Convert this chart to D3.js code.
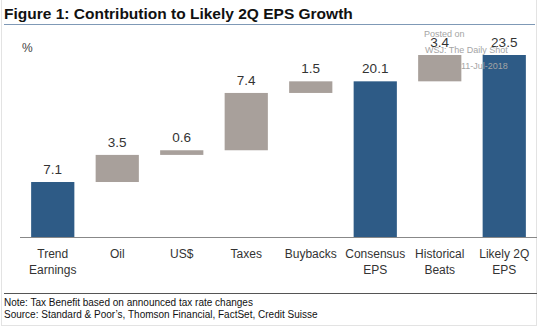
<!DOCTYPE html>
<html>
<head>
<meta charset="utf-8">
<script src="https://cdn.jsdelivr.net/npm/d3@7"></script>
<style>
  body { margin: 0; background: #fff; }
  svg { display: block; font-family: Arial, "Liberation Sans", sans-serif; }
</style>
</head>
<body>
<svg id="chart" width="540" height="328"></svg>
<script>
  // waterfall: blue bars are totals, grey bars are increments stacked on the running total
  const categories = ['Trend\nEarnings', 'Oil', 'US$', 'Taxes', 'Buybacks',
    'Consensus\nEPS', 'Historical\nBeats', 'Likely 2Q\nEPS'];
  const values = [7.1, 3.5, 0.6, 7.4, 1.5, 20.1, 3.4, 23.5];
  const isTotal = [true, false, false, false, false, true, false, true];
  const watermark = ['Posted on', 'WSJ: The Daily Shot', '11-Jul-2018'];
  const notes = ['Note: Tax Benefit based on announced tax rate changes',
    'Source: Standard & Poor\u2019s, Thomson Financial, FactSet, Credit Suisse'];

  const blue = '#2e5b86';
  const grey = '#a8a09b';

  const svg = d3.select('#chart');
  const width = 540, height = 328;

  // frame
  svg.append('rect')
    .attr('x', 1.5).attr('y', -2)
    .attr('width', width - 5).attr('height', height - 0.5)
    .attr('fill', 'none').attr('stroke', '#e3e3e3');

  svg.append('text')
    .attr('x', 4).attr('y', 19)
    .attr('font-size', 15.5).attr('font-weight', 'bold')
    .attr('fill', '#111')
    .text('Figure 1: Contribution to Likely 2Q EPS Growth');

  svg.append('line')
    .attr('x1', 4).attr('x2', 535).attr('y1', 24.5).attr('y2', 24.5)
    .attr('stroke', '#7f99b6').attr('stroke-width', 1.2);

  // build start/end of each bar
  let running = 0;
  const bars = values.map((v, i) => {
    let d;
    if (isTotal[i]) {
      d = {y0: 0, y1: v};
      running = v;
    } else {
      d = {y0: running, y1: running + v};
      running += v;
    }
    d.value = v;
    d.cat = categories[i];
    d.total = isTotal[i];
    return d;
  });

  const x = d3.scaleBand()
    .domain(categories)
    .range([20.5, 536.5])
    .paddingInner(0.33)
    .paddingOuter(0.165);

  const y = d3.scaleLinear()
    .domain([0, 23.5])
    .range([237, 55]);

  const g = svg.append('g');

  g.selectAll('rect.bar')
    .data(bars)
    .enter().append('rect')
    .attr('class', 'bar')
    .attr('x', (d) => x(d.cat))
    .attr('width', x.bandwidth())
    .attr('y', (d) => y(d.y1))
    .attr('height', (d) => y(d.y0) - y(d.y1))
    .attr('fill', (d) => d.total ? blue : grey);

  g.selectAll('text.val')
    .data(bars)
    .enter().append('text')
    .attr('class', 'val')
    .attr('x', (d) => x(d.cat) + x.bandwidth() / 2)
    .attr('y', (d) => y(d.y1) - 8)
    .attr('text-anchor', 'middle')
    .attr('font-size', 13.5)
    .attr('fill', '#333')
    .text((d) => d.value.toFixed(1));

  // baseline axis
  g.append('line')
    .attr('x1', 20).attr('x2', 537)
    .attr('y1', y(0) + 0.5).attr('y2', y(0) + 0.5)
    .attr('stroke', '#888').attr('stroke-width', 1);

  const labels = g.selectAll('text.cat')
    .data(categories)
    .enter().append('text')
    .attr('class', 'cat')
    .attr('text-anchor', 'middle')
    .attr('font-size', 12)
    .attr('fill', '#333')
    .attr('transform', (d) => 'translate(' + (x(d) + x.bandwidth() / 2) + ',0)');

  labels.selectAll('tspan')
    .data((d) => d.split('\n'))
    .enter().append('tspan')
    .attr('x', 0)
    .attr('y', (d, i) => 258 + i * 16)
    .text((d) => d);

  svg.append('text')
    .attr('x', 22).attr('y', 52)
    .attr('font-size', 12).attr('fill', '#444')
    .text('%');

  // watermark
  svg.append('g')
    .attr('font-size', 9).attr('fill', '#a5a5a5')
    .selectAll('text')
    .data(watermark)
    .enter().append('text')
    .attr('x', (d, i) => [424, 425, 461][i])
    .attr('y', (d, i) => [37, 53, 69][i])
    .text((d) => d);

  svg.append('line')
    .attr('x1', 4).attr('x2', 537).attr('y1', 293.5).attr('y2', 293.5)
    .attr('stroke', '#555').attr('stroke-width', 1.2);

  svg.append('g')
    .attr('font-size', 10).attr('fill', '#111')
    .selectAll('text')
    .data(notes)
    .enter().append('text')
    .attr('x', 4)
    .attr('y', (d, i) => 306 + i * 12)
    .text((d) => d);
</script>
</body>
</html>
